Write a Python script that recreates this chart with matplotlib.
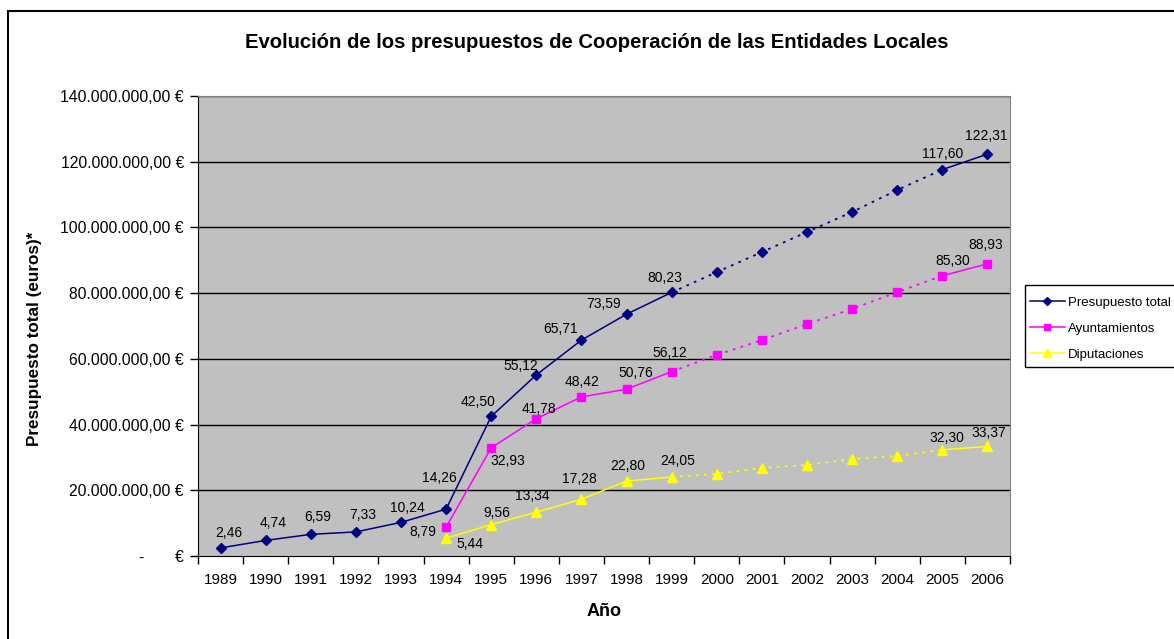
import numpy as np
import matplotlib.pyplot as plt
from matplotlib.lines import Line2D
from matplotlib.patches import Rectangle

plt.rcParams['font.family'] = ['Liberation Sans', 'DejaVu Sans']

# years on the x axis
years = ['1989', '1990', '1991', '1992', '1993', '1994', '1995', '1996', '1997',
         '1998', '1999', '2000', '2001', '2002', '2003', '2004', '2005', '2006']

# values in millions of euros (None = no data)
presupuesto = [2.46, 4.74, 6.59, 7.33, 10.24, 14.26, 42.50, 55.12, 65.71,
               73.59, 80.23, 86.4, 92.5, 98.6, 104.7, 111.4, 117.60, 122.31]
ayuntamientos = [None, None, None, None, None, 8.79, 32.93, 41.78, 48.42,
                 50.76, 56.12, 61.2, 65.7, 70.6, 75.2, 80.3, 85.30, 88.93]
diputaciones = [None, None, None, None, None, 5.44, 9.56, 13.34, 17.28,
                22.80, 24.05, 25.0, 26.8, 27.7, 29.5, 30.4, 32.30, 33.37]

# which points get a data label
lab_pres = [0, 1, 2, 3, 4, 5, 6, 7, 8, 9, 10, 16, 17]
lab_ayun = [5, 6, 7, 8, 9, 10, 16, 17]
lab_dipu = [5, 6, 7, 8, 9, 10, 16, 17]

# label offsets in pixels (dx, dy) for each labelled point
off_pres = [(8, 15), (7, 17), (7, 17), (7, 17), (6, 14), (-7, 31), (-13, 14),
            (-16, 9), (-21, 11), (-23, 10), (-7, 14), (0, 16), (-1, 18)]
off_ayun = [(-23, -5), (17, -13), (3, 10), (1, 15), (9, 16), (-2, 19),
            (10, 15), (-2, 19)]
off_dipu = [(24, -6), (6, 12), (-4, 16), (-2, 20), (1, 15), (6, 16),
            (5, 12), (1, 13)]

series = [
    (presupuesto, '#000080', 'D', 5, 'Presupuesto total', lab_pres, off_pres),
    (ayuntamientos, '#FF00FF', 's', 6, 'Ayuntamientos', lab_ayun, off_ayun),
    (diputaciones, '#FFFF00', '^', 7, 'Diputaciones', lab_dipu, off_dipu),
]

fig = plt.figure(figsize=(11.74, 6.39), dpi=100)
# chart area border (right and bottom edges fall outside the picture)
fig.patches.append(Rectangle((8 / 1174, -0.05), 1.1, 1.05 - 11 / 639,
                             transform=fig.transFigure, fill=False,
                             edgecolor='black', linewidth=1.5))

ax = fig.add_axes([198 / 1174, 1 - 556 / 639, 812 / 1174, 460 / 639])
ax.set_facecolor('#C0C0C0')

x = np.arange(len(years))
i_dot0 = years.index('1999')
i_dot1 = years.index('2005')

for vals, col, mk, ms, name, labs, offs in series:
    v = np.array([np.nan if a is None else a * 1e6 for a in vals])
    # solid, dotted, solid
    ax.plot(x[:i_dot0 + 1], v[:i_dot0 + 1], color=col, lw=1.1, zorder=3)
    ax.plot(x[i_dot0:i_dot1 + 1], v[i_dot0:i_dot1 + 1], color=col, lw=1.3,
            linestyle=(0, (1.5, 3)), zorder=3)
    ax.plot(x[i_dot1:], v[i_dot1:], color=col, lw=1.1, zorder=3)
    ax.plot(x, v, linestyle='none', marker=mk, markersize=ms, color=col,
            markeredgecolor=col, zorder=4)
    for i, (dx, dy) in zip(labs, offs):
        ax.annotate(('%.2f' % vals[i]).replace('.', ','), (x[i], v[i]),
                    xytext=(dx, dy), textcoords='offset pixels',
                    ha='center', va='center', fontsize=10, color='black',
                    zorder=5)

ax.set_xlim(-0.5, len(years) - 0.5)
ax.set_ylim(0, 140e6)
yt = np.arange(0, 141e6, 20e6)
ax.set_yticks(yt)


def euro(val):
    if val == 0:
        return '-       €'
    s = '{:,.2f}'.format(val)
    s = s.replace(',', 'X').replace('.', ',').replace('X', '.')
    return s + ' €'


ax.set_yticklabels([euro(t) for t in yt], fontsize=11.3)
for t in yt[1:]:
    ax.axhline(t, color='black', lw=1, zorder=1)

# ticks at category boundaries, labels at centres
ax.set_xticks(np.arange(-0.5, len(years), 1.0))
ax.set_xticklabels([])
ax.set_xticks(x, minor=True)
ax.set_xticklabels(years, minor=True, fontsize=11)
ax.tick_params(axis='x', which='major', direction='out', length=6, width=1)
ax.tick_params(axis='x', which='minor', length=0, pad=12)
ax.tick_params(axis='y', direction='out', length=6, width=1, pad=4)

for side in ['top', 'right']:
    ax.spines[side].set_color('#808080')
ax.spines['left'].set_color('black')
ax.spines['bottom'].set_color('black')

fig.text(597 / 1174, 1 - 43 / 639,
         'Evolución de los presupuestos de Cooperación de las Entidades Locales',
         ha='center', va='center', fontsize=14.6, fontweight='bold')
fig.text(604 / 1174, 1 - 612 / 639, 'Año', ha='center', va='center',
         fontsize=13, fontweight='bold')
fig.text(35 / 1174, 1 - 339 / 639, 'Presupuesto total (euros)*', ha='center',
         va='center', rotation=90, fontsize=12.3, fontweight='bold')

# legend box runs off the right edge, so draw its frame by hand
fig.patches.append(Rectangle((1025 / 1174, 1 - 367 / 639), 0.2, 82 / 639,
                             transform=fig.transFigure, fill=False,
                             edgecolor='black', linewidth=1))
handles = [Line2D([], [], color=c, marker=m, markersize=s * 0.8, lw=1.1)
           for _, c, m, s, _, _, _ in series]
leg = fig.legend(handles, [s[4] for s in series], loc='upper left',
                 bbox_to_anchor=(1025 / 1174, 1 - 292 / 639), fontsize=9.5,
                 frameon=False, borderpad=0.35, handlelength=2.65,
                 handletextpad=0.25, labelspacing=1.05, borderaxespad=0)

fig.savefig('out.png', dpi=100)
